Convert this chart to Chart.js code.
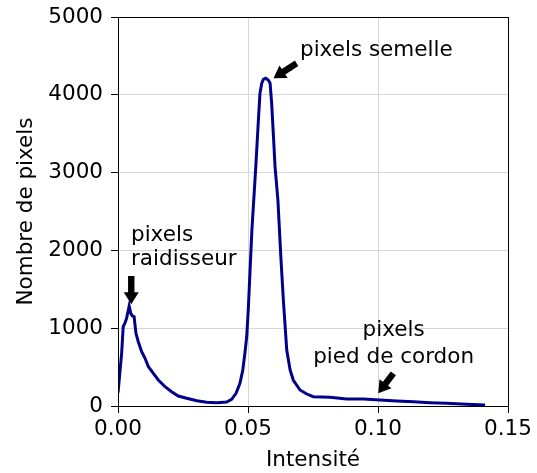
<!DOCTYPE html>
<html>
<head>
    <title>Histogramme des intensités</title>
    <style>
        body {
            margin: 0;
            padding: 0;
            background: #ffffff;
        }
        #chart-container {
            width: 537px;
            height: 473px;
        }
    </style>
    <script src="https://cdn.jsdelivr.net/npm/chart.js"></script>
</head>
<body>
    <div id="chart-container">
        <canvas id="chart" width="537" height="473"></canvas>
    </div>
    <script>
        const intensity = [
            0.0000, 0.0014, 0.0020, 0.0027, 0.0033, 0.0043, 0.0049, 0.0055, 0.0062, 0.0069,
            0.0078, 0.0091, 0.0104, 0.0117, 0.0136, 0.0155, 0.0181, 0.0206, 0.0232, 0.0264,
            0.0303, 0.0341, 0.0380, 0.0418, 0.0437, 0.0454, 0.0469, 0.0480, 0.0488, 0.0495,
            0.0501, 0.0508, 0.0515, 0.0530, 0.0540, 0.0546, 0.0553, 0.0559, 0.0568, 0.0578,
            0.0585, 0.0591, 0.0598, 0.0604, 0.0615, 0.0627, 0.0636, 0.0649, 0.0662, 0.0674,
            0.0700, 0.0726, 0.0751, 0.0815, 0.0879, 0.0944, 0.1008, 0.1072, 0.1137, 0.1200,
            0.1264, 0.1341, 0.1412
        ];
        const pixelCount = [
            170, 677, 1019, 1070, 1127, 1285, 1191, 1160, 1148, 934,
            826, 698, 613, 505, 420, 334, 248, 184, 128, 99,
            68, 47, 43, 51, 86, 163, 292, 463, 677, 890,
            1234, 1748, 2262, 3076, 3676, 4019, 4148, 4199, 4212, 4190,
            4148, 3890, 3461, 3076, 2648, 1877, 1362, 720, 463, 334,
            206, 154, 120, 112, 90, 90, 77, 64, 55, 43,
            35, 22, 13
        ];
        const xTicks = [0, 0.05, 0.10, 0.15];
        const yTicks = [0, 1000, 2000, 3000, 4000, 5000];

        // annotations : texte et flèches en coordonnées de données
        const labelLines = [
            { text: 'pixels semelle', x: 0.0700, y: 4500, align: 'left' },
            { text: 'pixels', x: 0.0050, y: 2125, align: 'left' },
            { text: 'raidisseur', x: 0.0050, y: 1810, align: 'left' },
            { text: 'pixels', x: 0.1060, y: 900, align: 'center' },
            { text: 'pied de cordon', x: 0.1060, y: 555, align: 'center' }
        ];
        const arrowTails = [[0.0051, 1671], [0.0687, 4405], [0.1059, 420]];
        const arrowTips = [[0.0051, 1307], [0.0598, 4212], [0.1001, 163]];

        const FONT = "'DejaVu Sans', sans-serif";
        const FSIZE = 21.5;
        Chart.defaults.font.family = FONT;
        Chart.defaults.font.size = FSIZE;
        Chart.defaults.color = '#000';

        function drawArrow(ctx, x1, y1, x2, y2) {
            const dx = x2 - x1, dy = y2 - y1;
            const len = Math.sqrt(dx * dx + dy * dy);
            const ux = dx / len, uy = dy / len;
            const px = -uy, py = ux;
            const sw = 3.2, hw = 7.5, hl = 12;
            const bx = x2 - ux * hl, by = y2 - uy * hl;
            ctx.beginPath();
            ctx.moveTo(x1 + px * sw, y1 + py * sw);
            ctx.lineTo(bx + px * sw, by + py * sw);
            ctx.lineTo(bx + px * hw, by + py * hw);
            ctx.lineTo(x2, y2);
            ctx.lineTo(bx - px * hw, by - py * hw);
            ctx.lineTo(bx - px * sw, by - py * sw);
            ctx.lineTo(x1 - px * sw, y1 - py * sw);
            ctx.closePath();
            ctx.fill();
        }

        const extras = {
            id: 'extras',
            afterDraw(chart) {
                const ctx = chart.ctx;
                const a = chart.chartArea;
                const xs = chart.scales.x, ys = chart.scales.y;
                ctx.save();
                // cadre
                ctx.strokeStyle = '#000';
                ctx.lineWidth = 1;
                ctx.strokeRect(Math.round(a.left) + 0.5, Math.round(a.top) + 0.5,
                    Math.round(a.right - a.left), Math.round(a.bottom - a.top));
                // textes
                ctx.fillStyle = '#000';
                ctx.font = FSIZE + 'px ' + FONT;
                ctx.textBaseline = 'alphabetic';
                labelLines.forEach(l => {
                    ctx.textAlign = l.align;
                    ctx.fillText(l.text, xs.getPixelForValue(l.x), ys.getPixelForValue(l.y));
                });
                // flèches
                for (let i = 0; i < arrowTails.length; i++) {
                    drawArrow(ctx,
                        xs.getPixelForValue(arrowTails[i][0]), ys.getPixelForValue(arrowTails[i][1]),
                        xs.getPixelForValue(arrowTips[i][0]), ys.getPixelForValue(arrowTips[i][1]));
                }
                ctx.restore();
            }
        };

        const points = intensity.map((v, i) => ({ x: v, y: pixelCount[i] }));

        new Chart(document.getElementById('chart').getContext('2d'), {
            type: 'scatter',
            data: {
                datasets: [{
                    data: points,
                    showLine: true,
                    borderColor: '#00008B',
                    borderWidth: 3,
                    pointRadius: 0,
                    tension: 0
                }]
            },
            options: {
                responsive: false,
                animation: false,
                layout: { padding: { top: 17, right: 29, left: 0, bottom: 0 } },
                plugins: {
                    legend: { display: false },
                    tooltip: { enabled: false }
                },
                scales: {
                    x: {
                        type: 'linear',
                        min: 0,
                        max: 0.15,
                        afterBuildTicks: s => { s.ticks = xTicks.map(v => ({ value: v })); },
                        afterFit: s => { s.height = 67; s.paddingLeft = 0; s.paddingRight = 0; },
                        ticks: {
                            padding: 4,
                            maxRotation: 0,
                            autoSkip: false,
                            callback: v => v.toFixed(2)
                        },
                        grid: { color: '#d6d6d6', tickColor: '#000', tickLength: 7 },
                        border: { display: false },
                        title: {
                            display: true,
                            text: 'Intensité',
                            padding: { top: 0, bottom: 0 }
                        }
                    },
                    y: {
                        min: 0,
                        max: 5000,
                        afterBuildTicks: s => { s.ticks = yTicks.map(v => ({ value: v })); },
                        afterFit: s => { s.width = 118; s.paddingTop = 0; s.paddingBottom = 0; },
                        ticks: { padding: 8, callback: v => String(v) },
                        grid: { color: '#d6d6d6', tickColor: '#000', tickLength: 7 },
                        border: { display: false },
                        title: {
                            display: true,
                            text: 'Nombre de pixels',
                            padding: { top: 14, bottom: 0 }
                        }
                    }
                }
            },
            plugins: [extras]
        });
    </script>
</body>
</html>
